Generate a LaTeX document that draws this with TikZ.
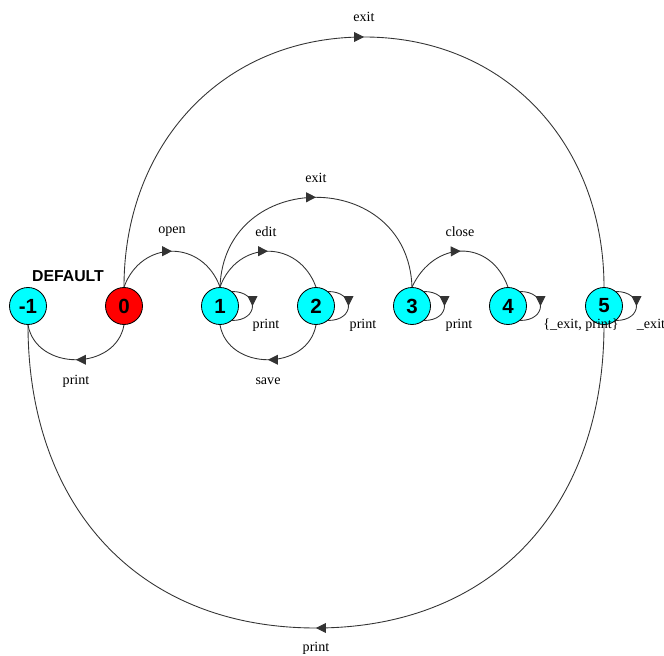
\documentclass[tikz,border=0pt]{standalone}
\usepackage{fontspec}
\setmainfont{Liberation Serif}
\newfontfamily\statefont{Liberation Sans}
\usetikzlibrary{arrows.meta,decorations.markings}

\definecolor{stateaqua}{RGB}{0,255,255}
\definecolor{startred}{RGB}{255,0,0}

\tikzset{
    state/.style={circle, draw=black, line width=0.7pt, fill=stateaqua,
        minimum size=1.11cm, inner sep=0pt,
        font=\statefont\bfseries\fontsize{17.5}{19}\selectfont},
    startstate/.style={state, fill=startred},
    lbl/.style={inner sep=1pt, font=\fontsize{12}{14}\selectfont},
    midarrow/.style={postaction={decorate}, decoration={markings,
        mark=at position #1 with {\arrow{Triangle[length=8.5pt,width=8.5pt]}}}},
    midarrow/.default=0.5,
    trans/.style={draw=black!80, line width=0.75pt, midarrow},
}

\begin{document}
\begin{tikzpicture}[x=0.03cm, y=-0.03cm]
\useasboundingbox (0,0) rectangle (664,656);
% states
\node[state] (m1) at (28,306) {-1};
\node[startstate] (s0) at (124,306) {0};
\node[state] (s1) at (220,306) {1};
\node[state] (s2) at (316,306) {2};
\node[state] (s3) at (412,306) {3};
\node[state] (s4) at (508,306) {4};
\node[state] (s5) at (604,306) {5};
\node[font=\statefont\bfseries\fontsize{13.5}{16}\selectfont] (dflt) at (68,276) {DEFAULT};

% turning points of the two long arcs
\coordinate (exittop) at (364,37);
\coordinate (printbot) at (316,628);

% transitions above
\draw[trans] (s0.north) to[out=70,in=110,looseness=1.36] (s1.north);
\draw[trans] (s1.north) to[out=70,in=110,looseness=1.36] (s2.north);
\draw[trans] (s1.north) to[out=88,in=92,looseness=1.6] (s3.north);
\draw[trans] (s3.north) to[out=65,in=110,looseness=1.39] (s4.north);
\draw[trans] (s0.north) to[out=90,in=180,looseness=1.05] (exittop)
    to[out=0,in=90,looseness=1.05] (s5.north);

% transitions below
\draw[trans] (s2.south) to[out=-100,in=-80,looseness=1.26] (s1.south);
\draw[trans] (s0.south) to[out=-100,in=-80,looseness=1.26] (m1.south);
\draw[trans] (s5.south) to[out=-90,in=0,looseness=1.1] (printbot)
    to[out=180,in=-90,looseness=1.1] (m1.south);

% self loops
\foreach \s in {s1,s2,s3,s4,s5}
    \draw[trans] (\s.50) to[out=0,in=0,looseness=2.4] (\s.-50);

% labels
\node[lbl] (lopen) at (172,232) {open};
\node[lbl] (ledit) at (266,232) {edit};
\node[lbl] (lexit1) at (316,178) {exit};
\node[lbl] (lclose) at (460,232) {close};
\node[lbl] (lexit0) at (364,17) {exit};
\node[lbl] (lsave) at (268,381) {save};
\node[lbl] (lprint0) at (76,381) {print};
\node[lbl] (lprint5) at (316,648) {print};
\node[lbl] (lp1) at (266,325) {print};
\node[lbl] (lp2) at (363,325) {print};
\node[lbl] (lp3) at (459,325) {print};
\node[lbl] (lp4) at (581,325) {\{\_exit, print\}};
\node[lbl] (lp5) at (651,325) {\_exit};
\end{tikzpicture}
\end{document}
